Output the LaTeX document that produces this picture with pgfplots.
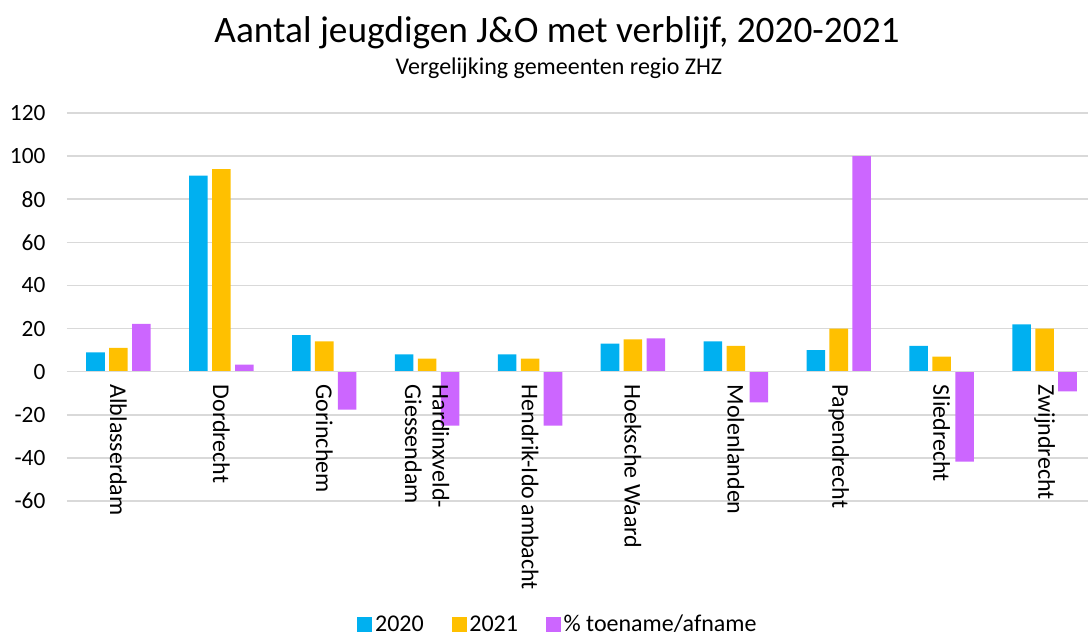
\documentclass[border=0pt]{standalone}
\usepackage{pgfplots}
\pgfplotsset{compat=1.18}
\usepackage{fontspec}
\setmainfont{Carlito}
\definecolor{c20}{HTML}{00B0F0}
\definecolor{c21}{HTML}{FFC000}
\definecolor{cpc}{HTML}{CC66FF}
\definecolor{gridc}{HTML}{D9D9D9}
\begin{document}
\begin{tikzpicture}
\begin{axis}[
  set layers=standard,
  scale only axis, width=771.75pt, height=291pt,
  xmin=-0.5, xmax=9.5, ymin=-60, ymax=120,
  axis x line=middle, axis y line=left,
  x axis line style={gridc, line width=1.1pt, -},
  y axis line style={draw=none},
  major tick length=0pt,
  ymajorgrids, grid style={gridc, line width=1.1pt},
  ytick={-60,-40,-20,0,20,40,60,80,100,120},
  yticklabels={-60,-40,-20,0,20,40,60,80,100,120},
  yticklabel style={anchor=east, inner sep=0pt, font=\fontsize{17.5}{20}\selectfont},
  yticklabel shift=16pt,
  xtick={0,1,2,3,4,5,6,7,8,9},
  xticklabels={Alblasserdam,Dordrecht,Gorinchem,{Hardinxveld-\\Giessendam},Hendrik-Ido ambacht,Hoeksche Waard,Molenlanden,Papendrecht,Sliedrecht,Zwijndrecht},
  xticklabel style={rotate=-90, anchor=west, align=left, inner sep=0pt, font=\fontsize{18}{20.5}\selectfont},
  xticklabel shift=9.5pt,
  ybar,
  legend style={at={(0.4775,-0.318)}, anchor=center, draw=none, fill=none,
    legend columns=3, font=\fontsize{18}{20}\selectfont,
    /tikz/every even column/.append style={column sep=19pt},
    inner sep=0pt},
  legend image code/.code={\path[#1, draw=none] (0pt,-5.6pt) rectangle (11.2pt,5.6pt);},
  clip=false,
]
\addplot[on layer=axis ticks, fill=c20, draw=none, bar width=0.18, bar shift=-0.223] coordinates {
(0,9) (1,91) (2,17) (3,8) (4,8) (5,13) (6,14) (7,10) (8,12) (9,22)};
\addplot[on layer=axis ticks, fill=c21, draw=none, bar width=0.18, bar shift=0] coordinates {
(0,11) (1,94) (2,14) (3,6) (4,6) (5,15) (6,12) (7,20) (8,7) (9,20)};
\addplot[on layer=axis ticks, fill=cpc, draw=none, bar width=0.18, bar shift=0.223] coordinates {
(0,22.2) (1,3.3) (2,-17.6) (3,-25) (4,-25) (5,15.4) (6,-14.3) (7,100) (8,-41.7) (9,-9.1)};
\legend{2020,2021,\% toename/afname}
\node[anchor=base, font=\fontsize{28}{32}\selectfont] at ([yshift=53.25pt]axis description cs:0.4762,1) {Aantal jeugdigen J\&O met verblijf, 2020-2021};
\node[anchor=base, font=\fontsize{18}{21}\selectfont] at ([yshift=29.25pt]axis description cs:0.4781,1) {Vergelijking gemeenten regio ZHZ};
\end{axis}
\pgfresetboundingbox
\path[use as bounding box] (-50.25pt,-102pt) rectangle (765.75pt,375.75pt);
\end{tikzpicture}
\end{document}
